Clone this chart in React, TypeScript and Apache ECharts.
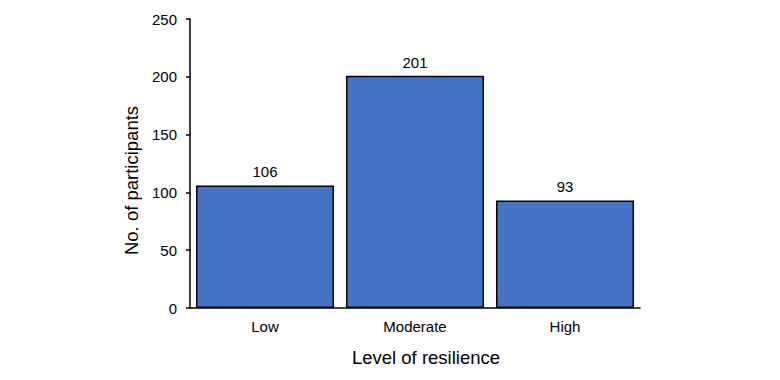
import React, { useEffect, useRef } from "react";
import * as echarts from "echarts";

const categories = ["Low", "Moderate", "High"];
const participants = [106, 201, 93];
const yTicks = { min: 0, max: 250, interval: 50 };

export default function App() {
  const ref = useRef<HTMLDivElement>(null);
  useEffect(() => {
    document.body.style.margin = "0";
    const chart = echarts.init(ref.current!, null, { renderer: "svg" });
    const font = "'Liberation Sans', Arial, sans-serif";
    chart.setOption({
      animation: false,
      backgroundColor: "#ffffff",
      grid: { left: 190, right: 140, top: 19, bottom: 72, containLabel: false },
      xAxis: {
        type: "category",
        data: categories,
        axisLine: { lineStyle: { color: "#000", width: 1.5 } },
        axisTick: { show: false },
        axisLabel: { color: "#000", fontSize: 15, fontFamily: font, margin: 11 },
        name: "Level of resilience",
        nameLocation: "middle",
        nameGap: 40,
        nameTextStyle: { color: "#000", fontSize: 18.5, fontFamily: font, padding: [0, 0, 0, 22] },
      },
      yAxis: {
        type: "value",
        min: yTicks.min,
        max: yTicks.max,
        interval: yTicks.interval,
        axisLine: { show: true, lineStyle: { color: "#000", width: 1.5 } },
        axisTick: { show: true, length: 4, lineStyle: { color: "#000", width: 1.5 } },
        splitLine: { show: false },
        axisLabel: { color: "#000", fontSize: 15, fontFamily: font, margin: 13 },
        name: "No. of participants",
        nameLocation: "middle",
        nameGap: 46,
        nameTextStyle: { color: "#000", fontSize: 18.5, fontFamily: font, padding: [0, 34, 0, 0] },
      },
      series: [
        {
          type: "bar",
          data: participants,
          barCategoryGap: "8%",
          itemStyle: { color: "#4472C4", borderColor: "#000", borderWidth: 1.5 },
          label: {
            show: true,
            position: "top",
            distance: 6,
            color: "#000",
            fontSize: 15,
            fontFamily: font,
          },
        },
      ],
    });
    return () => chart.dispose();
  }, []);
  return <div ref={ref} style={{ width: 780, height: 380 }} />;
}
